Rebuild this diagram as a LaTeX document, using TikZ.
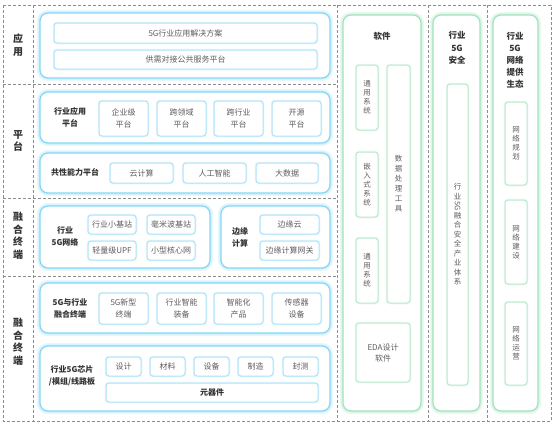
\documentclass[tikz,border=0pt]{standalone}
\usepackage{fontspec}
\setmainfont{Noto Sans CJK SC}
\usetikzlibrary{positioning}
\definecolor{blueC}{HTML}{86D6F6}
\definecolor{blueG}{HTML}{D6F1FC}
\definecolor{blueS}{HTML}{ACE3F8}
\definecolor{greenC}{HTML}{A2E2BC}
\definecolor{greenG}{HTML}{DDF5E6}
\definecolor{greenS}{HTML}{B8E9CC}
\definecolor{txt}{HTML}{5E5E5E}
\definecolor{txtb}{HTML}{333333}
\definecolor{dashc}{HTML}{8C8C8C}
\tikzset{
  bigblue/.style={draw=blueC, line width=1.2pt, rounded corners=8pt, fill=white,
    preaction={draw=blueG!60, line width=6pt, rounded corners=8pt},
    preaction={draw=blueG, line width=3.5pt, rounded corners=8pt}},
  subblue/.style={draw=blueS, line width=1pt, rounded corners=3pt, fill=white,
    preaction={draw=blueG!60, line width=2.5pt, rounded corners=3pt},
    text=txt, font=\fontsize{8}{11.5}\selectfont, align=center},
  biggreen/.style={draw=greenC, line width=1.2pt, rounded corners=8pt, fill=white,
    preaction={draw=greenG!60, line width=6pt, rounded corners=8pt},
    preaction={draw=greenG, line width=3.5pt, rounded corners=8pt}},
  subgreen/.style={draw=greenS, line width=1pt, rounded corners=3pt, fill=white,
    preaction={draw=greenG!60, line width=2.5pt, rounded corners=3pt},
    text=txt, align=center},
  lbl/.style={text=txtb, font=\fontsize{8}{12}\selectfont\bfseries, align=center, inner sep=0pt},
  rowlbl/.style={text=txtb, font=\fontsize{10}{12.5}\selectfont\bfseries, align=center, inner sep=0pt},
  vtxt/.style={font=\fontsize{7.5}{9}\selectfont},
  grid/.style={draw=dashc, line width=0.8pt, dash pattern=on 3pt off 2pt}
}
\newcommand\bx[7]{\node[#6, minimum width={(#4-#2)*1pt}, minimum height={(#5-#3)*1pt}, inner sep=0pt] (#1) at ({(#2+#4)/2},{(#3+#5)/2}) {#7};}
\begin{document}
\begin{tikzpicture}[x=1pt,y=-1pt]
\useasboundingbox (0,0) rectangle (554,424);
% dashed frame
\draw[grid] (3,5) rectangle (551,421);
\draw[grid] (33,5) -- (33,421);
\draw[grid] (337,5) -- (337,421);
\draw[grid] (428,5) -- (428,421);
\draw[grid] (487,5) -- (487,421);
\draw[grid] (3,84) -- (337,84);
\draw[grid] (3,198) -- (337,198);
\draw[grid] (3,276) -- (337,276);
% row labels
\node[rowlbl] (r1) at (18,45) {应\\用};
\node[rowlbl] (r2) at (18,141) {平\\台};
\node[rowlbl] (r3) at (18,236) {融\\合\\终\\端};
\node[rowlbl] (r4) at (18,342) {融\\合\\终\\端};
% application
\bx{app}{40}{13}{330}{78}{bigblue}{}
\bx{a1}{54}{23}{317}{43}{subblue}{5G行业应用解决方案}
\bx{a2}{54}{50}{317}{69}{subblue}{供需对接公共服务平台}
% industry application platform
\bx{pB}{40}{92}{330}{143}{bigblue}{}
\node[lbl] (pBl) at (70,117) {行业应用\\平台};
\bx{p1}{99}{101}{148}{136}{subblue}{企业级\\平台}
\bx{p2}{157}{101}{206}{136}{subblue}{跨领域\\平台}
\bx{p3}{214}{101}{263}{136}{subblue}{跨行业\\平台}
\bx{p4}{272}{101}{321}{136}{subblue}{开源\\平台}
% common capability
\bx{pC}{40}{153}{330}{193}{bigblue}{}
\node[lbl] (pCl) at (75,172) {共性能力平台};
\bx{c1}{110}{163}{173}{183}{subblue}{云计算}
\bx{c2}{183}{163}{246}{183}{subblue}{人工智能}
\bx{c3}{256}{163}{318}{183}{subblue}{大数据}
% industry 5G network
\bx{nD}{40}{206}{210}{268}{bigblue}{}
\node[lbl] (nDl) at (65,236) {行业\\5G网络};
\bx{n1}{88}{215}{136}{234}{subblue}{行业小基站}
\bx{n2}{147}{215}{195}{234}{subblue}{毫米波基站}
\bx{n3}{88}{241}{136}{260}{subblue}{轻量级UPF}
\bx{n4}{147}{241}{195}{260}{subblue}{小型核心网}
% edge computing
\bx{eE}{221}{206}{330}{268}{bigblue}{}
\node[lbl] (eEl) at (240,237) {边缘\\计算};
\bx{e1}{260}{215}{319}{234}{subblue}{边缘云}
\bx{e2}{260}{241}{319}{260}{subblue}{边缘计算网关}
% terminals
\bx{tF}{40}{283}{330}{333}{bigblue}{}
\node[lbl] (tFl) at (70,308) {5G与行业\\融合终端};
\bx{t1}{99}{293}{148}{324}{subblue}{5G新型\\终端}
\bx{t2}{157}{293}{206}{324}{subblue}{行业智能\\装备}
\bx{t3}{214}{293}{263}{324}{subblue}{智能化\\产品}
\bx{t4}{272}{293}{321}{324}{subblue}{传感器\\设备}
% chips
\bx{gG}{40}{346}{330}{411}{bigblue}{}
\node[lbl] (gGl) at (72,376) {行业5G芯片\\/模组/线路板};
\bx{g1}{106}{357}{141}{376}{subblue}{设计}
\bx{g2}{150}{357}{185}{376}{subblue}{材料}
\bx{g3}{194}{357}{229}{376}{subblue}{设备}
\bx{g4}{238}{357}{273}{376}{subblue}{制造}
\bx{g5}{283}{357}{318}{376}{subblue}{封测}
\bx{g6}{106}{383}{318}{402}{subblue,text=txtb,font=\fontsize{8}{11}\selectfont\bfseries}{元器件}
% software column
\bx{sw}{343}{15}{421}{411}{biggreen}{}
\node[lbl,font=\fontsize{8.5}{12}\selectfont\bfseries] (swl) at (382,36) {软件};
\bx{s1}{356}{65}{378}{130}{subgreen,vtxt}{通\\用\\系\\统}
\bx{s2}{356}{152}{378}{217}{subgreen,vtxt}{嵌\\入\\式\\系\\统}
\bx{s3}{356}{238}{378}{303}{subgreen,vtxt}{通\\用\\系\\统}
\bx{s4}{387}{65}{410}{303}{subgreen,vtxt,font=\fontsize{7.5}{10}\selectfont}{数\\据\\处\\理\\工\\具}
\bx{s5}{356}{323}{410}{382}{subgreen,font=\fontsize{8}{11}\selectfont}{EDA设计\\软件}
% security column
\bx{sec}{433}{15}{480}{411}{biggreen}{}
\node[lbl,font=\fontsize{8.5}{12.5}\selectfont\bfseries] (secl) at (457,48) {行业\\5G\\安全};
\bx{sec1}{447}{84}{468}{385}{subgreen,vtxt,font=\fontsize{7.5}{9.5}\selectfont}{行\\业\\\rotatebox[origin=c]{-90}{5G}\\融\\合\\安\\全\\产\\业\\体\\系}
% ecosystem column
\bx{eco}{493}{15}{538}{411}{biggreen}{}
\node[lbl,font=\fontsize{8.5}{12}\selectfont\bfseries] (ecol) at (515,60) {行业\\5G\\网络\\提供\\生态};
\bx{eco1}{505}{102}{527}{185}{subgreen,vtxt}{网\\络\\规\\划}
\bx{eco2}{505}{200}{527}{284}{subgreen,vtxt}{网\\络\\建\\设}
\bx{eco3}{505}{302}{527}{385}{subgreen,vtxt}{网\\络\\运\\营}
\end{tikzpicture}
\end{document}
